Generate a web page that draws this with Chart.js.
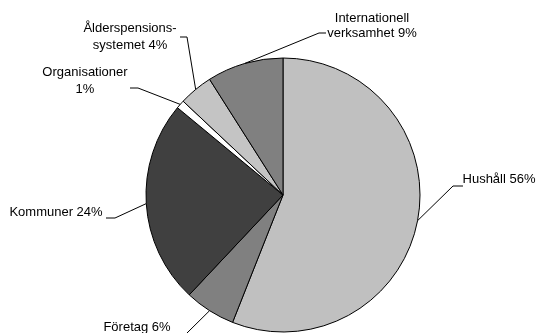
<!DOCTYPE html>
<html>
<head>
<meta charset="utf-8">
<script src="https://cdn.jsdelivr.net/npm/chart.js@4/dist/chart.umd.min.js"></script>
<style>
  html, body { margin: 0; padding: 0; background: #fff; }
  #wrap { position: relative; width: 539px; height: 333px; }
</style>
</head>
<body>
<div id="wrap"><canvas id="c" width="539" height="333"></canvas></div>
<script>
// Sectors, clockwise from 12 o'clock
const categories = ['Hushåll', 'Företag', 'Kommuner', 'Organisationer', 'Ålderspensionssystemet', 'Internationell verksamhet'];
const shares = [56, 6, 24, 1, 4, 9];
// Label text split into lines; the share is appended to the last line
const labelLines = [
  ['Hushåll'],
  ['Företag'],
  ['Kommuner'],
  ['Organisationer', ''],
  ['Ålderspensions-', 'systemet'],
  ['Internationell', 'verksamhet']
];

const fills = ['#c0c0c0', '#808080', '#404040', '#ffffff', '#c4c4c4', '#808080'];

// Label placement: text centre x, first baseline y, line step, leader elbow and leader end
const labelLayout = [
  { x: 499, y: 183, step: 16, elbow: [453, 186], end: [463, 186] },
  { x: 137, y: 331, step: 16, elbow: [187, 333], end: [187, 333] },
  { x: 56,  y: 216, step: 16, elbow: [115, 218], end: [106, 218] },
  { x: 85,  y: 76,  step: 17, elbow: [138, 88],  end: [130, 88] },
  { x: 130, y: 32,  step: 16.5, elbow: [187, 37], end: [180, 37] },
  { x: 372, y: 21.5, step: 15.5, elbow: [319, 33], end: [326, 33] }
];

const leaderLabels = {
  id: 'leaderLabels',
  afterDatasetsDraw(chart) {
    const ctx = chart.ctx;
    const meta = chart.getDatasetMeta(0);
    ctx.save();
    ctx.font = '13px "Liberation Sans", Arial, sans-serif';
    ctx.fillStyle = '#000';
    ctx.textAlign = 'center';
    ctx.textBaseline = 'alphabetic';
    ctx.strokeStyle = '#000';
    ctx.lineWidth = 1;
    meta.data.forEach((arc, i) => {
      const p = arc.getProps(['x', 'y', 'startAngle', 'endAngle', 'outerRadius'], true);
      const mid = (p.startAngle + p.endAngle) / 2;
      const ex = p.x + Math.cos(mid) * p.outerRadius;
      const ey = p.y + Math.sin(mid) * p.outerRadius;
      const L = labelLayout[i];
      ctx.beginPath();
      ctx.moveTo(ex, ey);
      ctx.lineTo(L.elbow[0], L.elbow[1]);
      ctx.lineTo(L.end[0], L.end[1]);
      ctx.stroke();
      const lines = labelLines[i].slice();
      const last = lines.length - 1;
      lines[last] = (lines[last] ? lines[last] + ' ' : '') + shares[i] + '%';
      lines.forEach((t, k) => ctx.fillText(t, L.x, L.y + k * L.step));
    });
    ctx.restore();
  }
};

new Chart(document.getElementById('c'), {
  type: 'pie',
  data: {
    labels: categories,
    datasets: [{
      data: shares,
      backgroundColor: fills,
      borderColor: '#000',
      borderWidth: 1,
      borderAlign: 'center',
      hoverOffset: 0
    }]
  },
  options: {
    responsive: false,
    animation: false,
    events: [],
    radius: 137,
    layout: { padding: { left: 146, right: 119, top: 58, bottom: 1 } },
    plugins: {
      legend: { display: false },
      tooltip: { enabled: false }
    }
  },
  plugins: [leaderLabels]
});
</script>
</body>
</html>
